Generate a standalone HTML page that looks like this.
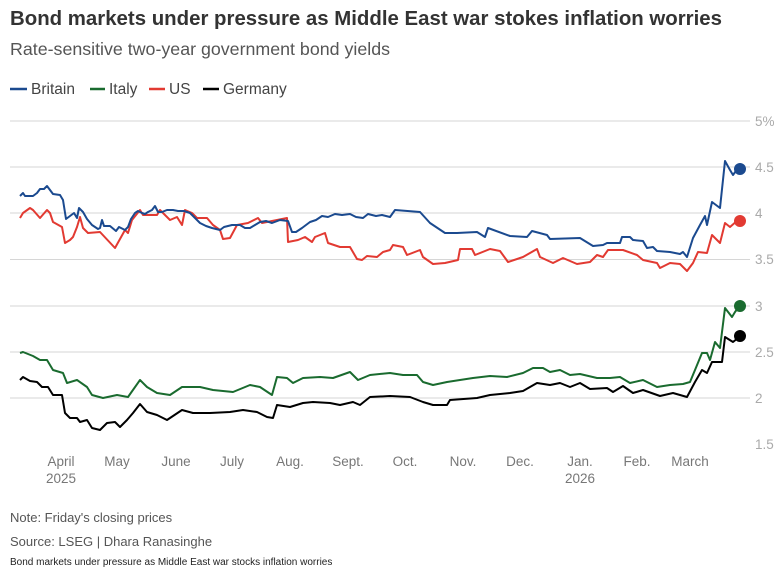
<!DOCTYPE html>
<html><head><meta charset="utf-8"><style>
body{margin:0;background:#fff;width:781px;height:571px;overflow:hidden;font-family:"Liberation Sans",sans-serif;}
svg{position:absolute;left:0;top:0}
</style></head><body>
<svg width="781" height="571" viewBox="0 0 781 571" font-family="Liberation Sans, sans-serif">
<text x="10" y="25" font-size="20.5" font-weight="bold" fill="#333" textLength="712" lengthAdjust="spacingAndGlyphs">Bond markets under pressure as Middle East war stokes inflation worries</text>
<text x="10" y="55" font-size="17.5" fill="#555" textLength="380" lengthAdjust="spacingAndGlyphs">Rate-sensitive two-year government bond yields</text>
<g font-size="15.5" fill="#444">
<line x1="10" y1="89" x2="27" y2="89" stroke="#1b4a8f" stroke-width="2.5"/><text x="31" y="94">Britain</text>
<line x1="90" y1="89" x2="105" y2="89" stroke="#1a6b2f" stroke-width="2.5"/><text x="109" y="94">Italy</text>
<line x1="149" y1="89" x2="165" y2="89" stroke="#e23a32" stroke-width="2.5"/><text x="169" y="94">US</text>
<line x1="203" y1="89" x2="219" y2="89" stroke="#000" stroke-width="2.5"/><text x="223" y="94">Germany</text>
</g>
<g stroke="#d6d6d6" stroke-width="1">
<line x1="10" y1="121" x2="750" y2="121"/><line x1="10" y1="167" x2="750" y2="167"/>
<line x1="10" y1="213" x2="750" y2="213"/><line x1="10" y1="259.5" x2="750" y2="259.5"/>
<line x1="10" y1="306" x2="750" y2="306"/><line x1="10" y1="352" x2="750" y2="352"/>
<line x1="10" y1="398" x2="750" y2="398"/>
</g>
<g font-size="13.5" fill="#aaa">
<text x="755" y="126">5%</text><text x="755" y="172">4.5</text><text x="755" y="218">4</text>
<text x="755" y="264">3.5</text><text x="755" y="311">3</text><text x="755" y="357">2.5</text>
<text x="755" y="403">2</text><text x="755" y="449">1.5</text>
</g>
<g font-size="13.5" fill="#777" text-anchor="middle">
<text x="61" y="466">April</text><text x="61" y="483">2025</text>
<text x="117" y="466">May</text><text x="176" y="466">June</text><text x="232" y="466">July</text>
<text x="290" y="466">Aug.</text><text x="348" y="466">Sept.</text><text x="405" y="466">Oct.</text>
<text x="463" y="466">Nov.</text><text x="520" y="466">Dec.</text><text x="580" y="466">Jan.</text>
<text x="580" y="483">2026</text><text x="637" y="466">Feb.</text><text x="690" y="466">March</text>
</g>
<g fill="none" stroke-width="2" stroke-linejoin="round">
<polyline stroke="#e23a32" points="20,218 23,213 30,208 33,210 40,218 47,210 50,213 53,222 62,227 65,243 70,240 73,237 77,227 80,217 83,228 88,233 100,232 115,248 125,230 128,233 132,220 140,210 143,215 157,215 160,210 170,220 177,217 182,225 185,210 192,213 197,218 207,218 213,225 220,230 223,239 230,238 237,225 248,223 258,218 262,223 277,220 287,218 288,242 298,240 305,237 312,242 315,237 325,233 328,243 340,247 350,247 357,259 362,260 367,256 377,257 383,252 390,250 393,245 403,247 407,255 420,250 423,257 433,264 445,263 458,260 460,249 472,249 475,255 490,249 500,251 508,262 523,257 537,249 540,257 553,263 563,258 577,264 590,262 597,255 603,257 608,250 623,250 637,255 643,260 657,263 660,268 670,263 680,264 687,271 693,263 698,252 707,253 712,235 720,243 725,223 730,227 738,220"/>
<polyline stroke="#1b4a8f" points="20,196 23,193 25,196 33,196 37,193 40,189 44,189 47,186 50,190 53,194 60,195 63,200 66,219 70,216 74,213 77,218 79,208 83,212 87,219 92,225 98,229 100,228 102,220 104,226 110,226 116,231 119,227 125,230 128,227 131,219 135,213 138,211 142,213 145,214 148,212 152,210 155,206 158,212 162,212 167,210 173,210 178,211 184,211 190,213 196,219 200,223 206,226 212,228 220,230 224,227 232,225 240,225 245,228 250,228 255,225 260,222 266,221 272,223 280,220 288,221 292,232 296,232 302,228 310,222 316,220 322,216 328,217 335,214 342,215 350,214 356,217 363,218 368,214 376,216 382,215 390,217 395,210 420,212 430,223 445,233 457,233 477,232 485,237 488,228 510,236 527,237 532,231 547,235 550,239 580,238 593,246 603,245 607,243 620,243 622,237 630,237 633,240 643,241 647,248 653,247 657,251 670,252 680,254 683,252 687,257 693,238 700,225 705,216 707,225 712,202 720,208 725,161 730,170 733,175 738,168"/>
<polyline stroke="#1a6b2f" points="20,353 23,352 33,356 40,360 47,360 53,370 63,373 67,383 77,380 87,387 92,395 103,398 117,395 128,397 140,380 147,387 157,393 170,395 182,387 200,387 213,390 233,392 250,385 260,387 272,395 277,377 287,378 293,383 303,378 320,377 333,378 350,372 358,380 370,375 390,373 403,375 417,375 423,382 433,385 447,382 473,378 490,376 507,377 523,373 533,368 543,368 550,372 560,370 570,375 580,374 597,378 610,378 620,377 630,383 643,380 657,387 670,385 683,384 690,382 695,370 702,353 707,353 710,360 715,342 720,348 725,308 732,317 735,312 738,308"/>
<polyline stroke="#000" points="20,380 23,377 30,381 37,382 42,387 48,387 53,395 62,395 65,413 70,418 77,418 80,422 87,420 92,428 100,430 107,423 115,422 120,427 127,420 133,413 140,404 147,412 157,415 167,420 182,410 193,413 210,413 230,412 243,410 257,412 267,417 273,418 277,405 290,407 303,403 313,402 330,403 340,405 353,402 360,405 370,397 390,396 410,397 423,402 433,405 447,405 450,400 477,398 490,395 510,393 523,391 537,383 550,385 560,383 570,387 580,383 590,389 607,388 613,392 623,386 633,393 643,390 660,396 673,393 687,397 695,382 702,370 707,373 712,362 722,362 725,337 733,342 738,338"/>
</g>
<circle cx="740" cy="169" r="6" fill="#1b4a8f"/>
<circle cx="740" cy="221" r="6" fill="#e23a32"/>
<circle cx="740" cy="306" r="6" fill="#1a6b2f"/>
<circle cx="740" cy="336" r="6" fill="#000"/>
<text x="10" y="522" font-size="13" fill="#555">Note: Friday's closing prices</text>
<text x="10" y="546" font-size="13" fill="#555">Source: LSEG  | Dhara Ranasinghe</text>
<text x="10" y="565" font-size="10" fill="#222">Bond markets under pressure as Middle East war stocks inflation worries</text>
</svg>
</body></html>
